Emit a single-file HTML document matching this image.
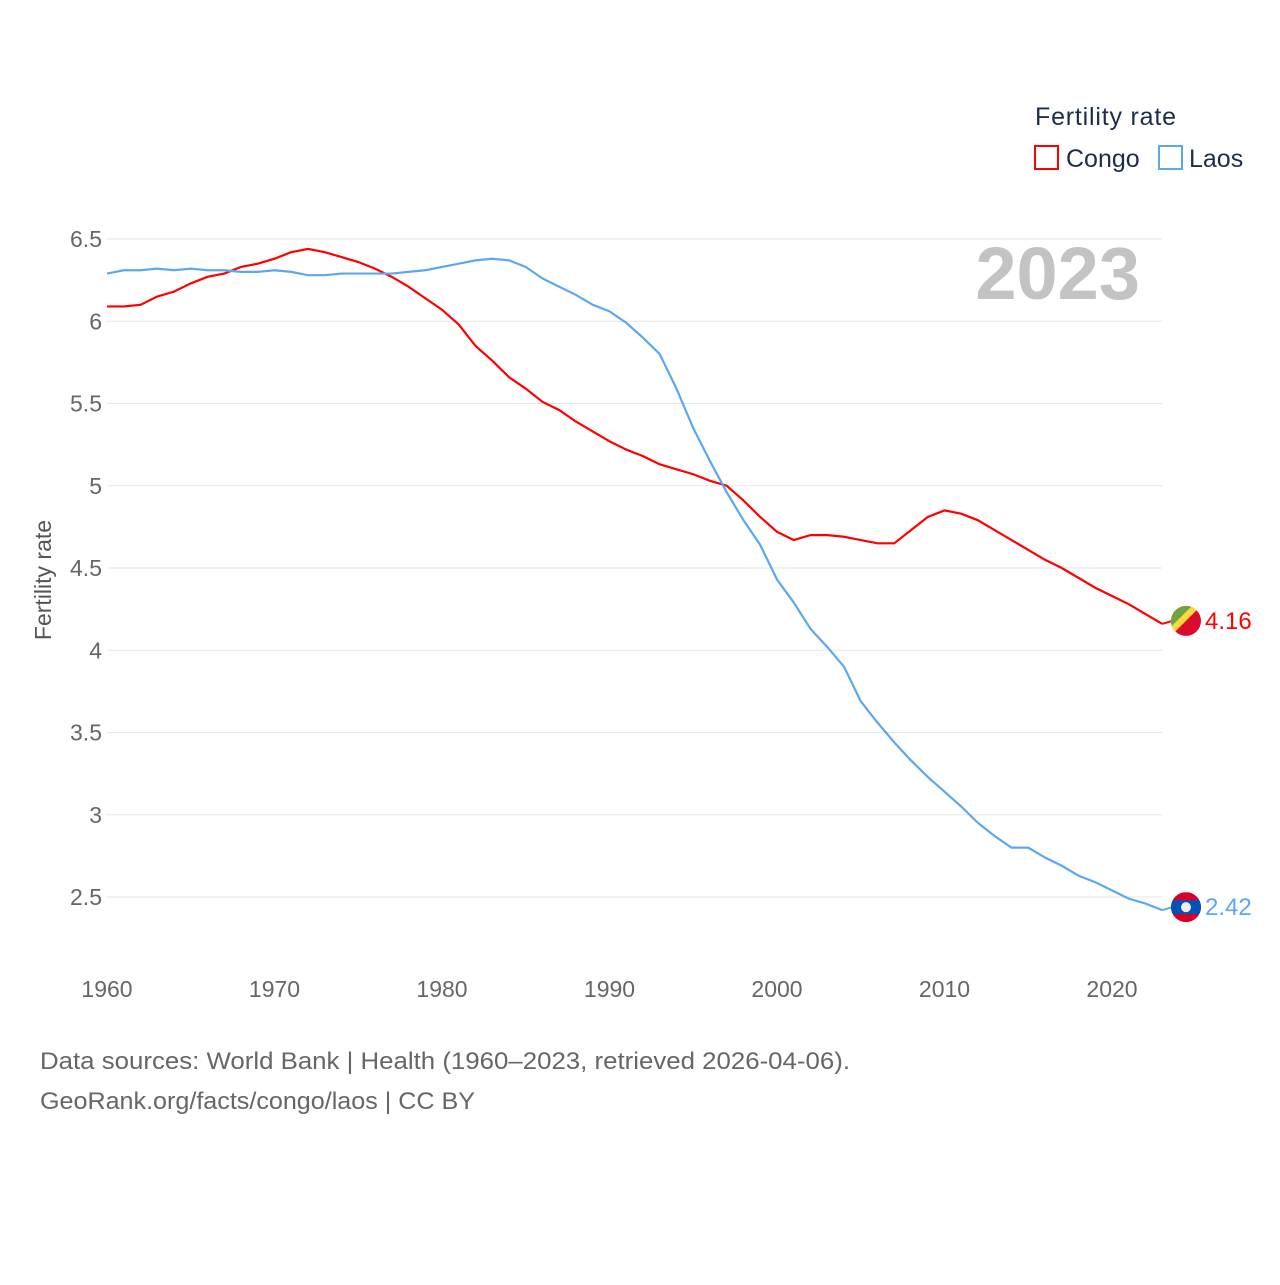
<!DOCTYPE html>
<html><head><meta charset="utf-8"><style>
body{margin:0;background:#fff;width:1280px;height:1280px;overflow:hidden;font-family:"Liberation Sans",sans-serif}
</style></head><body>
<svg id="chart" width="1280" height="1280" xmlns="http://www.w3.org/2000/svg" font-family="Liberation Sans, sans-serif">
<text x="1035" y="125" font-size="25" fill="#1d2c4c" textLength="141">Fertility rate</text>
<g><rect x="1035" y="146" width="23" height="23" fill="none" stroke="#f00" stroke-width="2"/><text x="1066" y="167" font-size="25" fill="#1d2c4c">Congo</text></g>
<g><rect x="1159" y="146" width="23" height="23" fill="none" stroke="#5ba8ef" stroke-width="2"/><text x="1189" y="167" font-size="25" fill="#1d2c4c">Laos</text></g>
<text x="1140" y="299" font-size="74" font-weight="bold" fill="#c3c3c3" text-anchor="end">2023</text>
<text transform="translate(51,580) rotate(-90)" font-size="23" fill="#555" text-anchor="middle">Fertility rate</text>
<g id="grid"></g><g id="series"></g>
<text x="40" y="1069" font-size="24" fill="#666" textLength="810" lengthAdjust="spacingAndGlyphs">Data sources: World Bank | Health (1960–2023, retrieved 2026-04-06).</text>
<text x="40" y="1109" font-size="24" fill="#666" textLength="435" lengthAdjust="spacingAndGlyphs">GeoRank.org/facts/congo/laos | CC BY</text>
</svg>
<script>
const years=[];for(let y=1960;y<=2023;y++)years.push(y);
const yTicks=[2.5,3,3.5,4,4.5,5,5.5,6,6.5];
const xTicks=[1960,1970,1980,1990,2000,2010,2020];
const congo=[6.09,6.09,6.10,6.15,6.18,6.23,6.27,6.29,6.33,6.35,6.38,6.42,6.44,6.42,6.39,6.36,6.32,6.27,6.21,6.14,6.07,5.98,5.85,5.76,5.66,5.59,5.51,5.46,5.39,5.33,5.27,5.22,5.18,5.13,5.10,5.07,5.03,5.00,4.91,4.81,4.72,4.67,4.70,4.70,4.69,4.67,4.65,4.65,4.73,4.81,4.85,4.83,4.79,4.73,4.67,4.61,4.55,4.50,4.44,4.38,4.33,4.28,4.22,4.16];
const laos=[6.29,6.31,6.31,6.32,6.31,6.32,6.31,6.31,6.30,6.30,6.31,6.30,6.28,6.28,6.29,6.29,6.29,6.29,6.30,6.31,6.33,6.35,6.37,6.38,6.37,6.33,6.26,6.21,6.16,6.10,6.06,5.99,5.90,5.80,5.59,5.35,5.15,4.96,4.79,4.64,4.43,4.29,4.13,4.02,3.90,3.69,3.56,3.44,3.33,3.23,3.14,3.05,2.95,2.87,2.80,2.80,2.74,2.69,2.63,2.59,2.54,2.49,2.46,2.42];
const X=y=>107+(y-1960)*16.75, Y=v=>239+(6.5-v)*164.5;
const NS="http://www.w3.org/2000/svg";
function mk(t,a,p){const e=document.createElementNS(NS,t);for(const k in a)e.setAttribute(k,a[k]);p.appendChild(e);return e;}
const g=document.getElementById('grid');
yTicks.forEach(v=>{
 const l=mk('line',{x1:107,x2:1162,y1:Y(v),y2:Y(v),stroke:'#e6e6e6','stroke-width':1},g);
 
 
 const t=mk('text',{x:102,y:Y(v)+8,'font-size':23,fill:'#666','text-anchor':'end'},g);t.textContent=String(v);
 
 
});
xTicks.forEach(v=>{
 const t=mk('text',{x:X(v),y:997,'font-size':23,fill:'#666','text-anchor':'middle'},g);t.textContent=String(v);
 
 
});
const s=document.getElementById('series');
function line(data,color,name){
 const p=mk('path',{d:data.map((v,i)=>(i?'L':'M')+X(years[i])+','+Y(v)).join(''),fill:'none',stroke:color,'stroke-width':2.2},s);
 
 
}
line(congo,'#f00','congo-line');line(laos,'#5ba8ef','laos-line');
const cy=Y(congo[congo.length-1])-3, ly=Y(laos[laos.length-1])-3, fx=1186;
mk('line',{x1:X(2023),x2:fx-14,y1:cy+3,y2:cy,stroke:'#f00','stroke-width':2},s);
mk('line',{x1:X(2023),x2:fx-14,y1:ly+3,y2:ly,stroke:'#5ba8ef','stroke-width':2},s);
const defs=mk('defs',{},s);
const cp=mk('clipPath',{id:'cc'},defs);mk('circle',{cx:fx,cy:cy,r:15},cp);
const cf=mk('g',{'clip-path':'url(#cc)'},s);


mk('rect',{x:fx-15,y:cy-15,width:30,height:30,fill:'#dc0a2c'},cf);
mk('polygon',{points:`${fx-15},${cy-15} ${fx+15},${cy-15} ${fx-15},${cy+15}`,fill:'#ffd83d'},cf);
mk('polygon',{points:`${fx-15},${cy-15} ${fx+6},${cy-15} ${fx-15},${cy+6}`,fill:'#6da544'},cf);
const lp=mk('clipPath',{id:'lc'},defs);mk('circle',{cx:fx,cy:ly,r:15},lp);
const lf=mk('g',{'clip-path':'url(#lc)'},s);


mk('rect',{x:fx-15,y:ly-15,width:30,height:30,fill:'#d80027'},lf);
mk('rect',{x:fx-15,y:ly-7,width:30,height:14,fill:'#0052b4'},lf);
mk('circle',{cx:fx,cy:ly,r:5,fill:'#eee'},lf);
const ct=mk('text',{x:1205,y:cy+8,'font-size':24,fill:'#f00'},s);ct.textContent=congo[congo.length-1].toFixed(2);


const lt=mk('text',{x:1205,y:ly+8,'font-size':24,fill:'#5ba8ef'},s);lt.textContent=laos[laos.length-1].toFixed(2);


</script>
</body></html>
